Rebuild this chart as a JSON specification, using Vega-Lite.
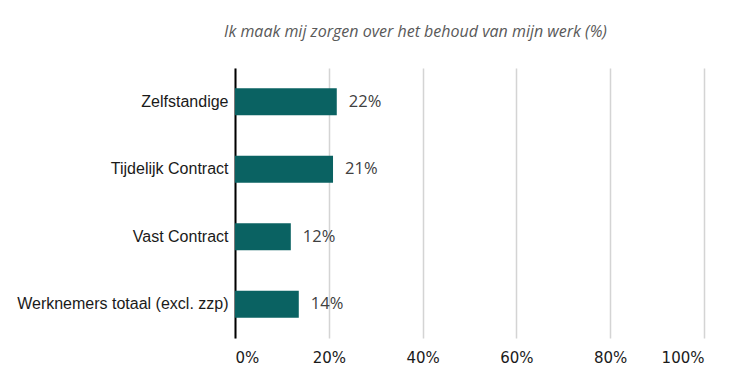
{
  "$schema": "https://vega.github.io/schema/vega-lite/v6.json",
  "width": 469,
  "height": 270,
  "autosize": "none",
  "padding": {"left": 235, "top": 68, "right": 46, "bottom": 46},
  "background": "white",
  "title": {
    "text": "Ik maak mij zorgen over het behoud van mijn werk (%)",
    "font": "Open Sans",
    "fontStyle": "italic",
    "fontWeight": "normal",
    "fontSize": 16,
    "color": "#595959",
    "anchor": "middle",
    "dx": -54,
    "offset": 28
  },
  "data": {
    "values": [
      {"groep": "Zelfstandige", "pct": 0.217, "label": "22%"},
      {"groep": "Tijdelijk Contract", "pct": 0.209, "label": "21%"},
      {"groep": "Vast Contract", "pct": 0.119, "label": "12%"},
      {"groep": "Werknemers totaal (excl. zzp)", "pct": 0.136, "label": "14%"}
    ]
  },
  "encoding": {
    "y": {
      "field": "groep",
      "type": "nominal",
      "sort": null,
      "scale": {"paddingInner": 0.6, "paddingOuter": 0.3},
      "axis": {
        "title": null,
        "domain": true,
        "domainColor": "#000000",
        "domainWidth": 2,
        "ticks": false,
        "labelPadding": 7,
        "labelLimit": 300,
        "labelFont": "Liberation Sans",
        "labelFontSize": 16,
        "labelColor": "#1a1a1a",
        "grid": false
      }
    },
    "x": {
      "field": "pct",
      "type": "quantitative",
      "scale": {"domain": [0, 1], "nice": false},
      "axis": {
        "title": null,
        "format": ".0%",
        "values": [0, 0.2, 0.4, 0.6, 0.8, 1],
        "domain": false,
        "ticks": false,
        "grid": true,
        "gridColor": "#d4d4d4",
        "gridWidth": 1.5,
        "labelPadding": 12,
        "labelFont": "DejaVu Sans",
        "labelFontSize": 15,
        "labelColor": "#1a1a1a"
      }
    }
  },
  "layer": [
    {"mark": {"type": "bar", "color": "#0a6262"}},
    {
      "mark": {"type": "text", "align": "left", "dx": 12, "font": "Open Sans", "fontSize": 16.5, "color": "#404040"},
      "encoding": {"text": {"field": "label"}}
    }
  ],
  "config": {"view": {"stroke": null}}
}
